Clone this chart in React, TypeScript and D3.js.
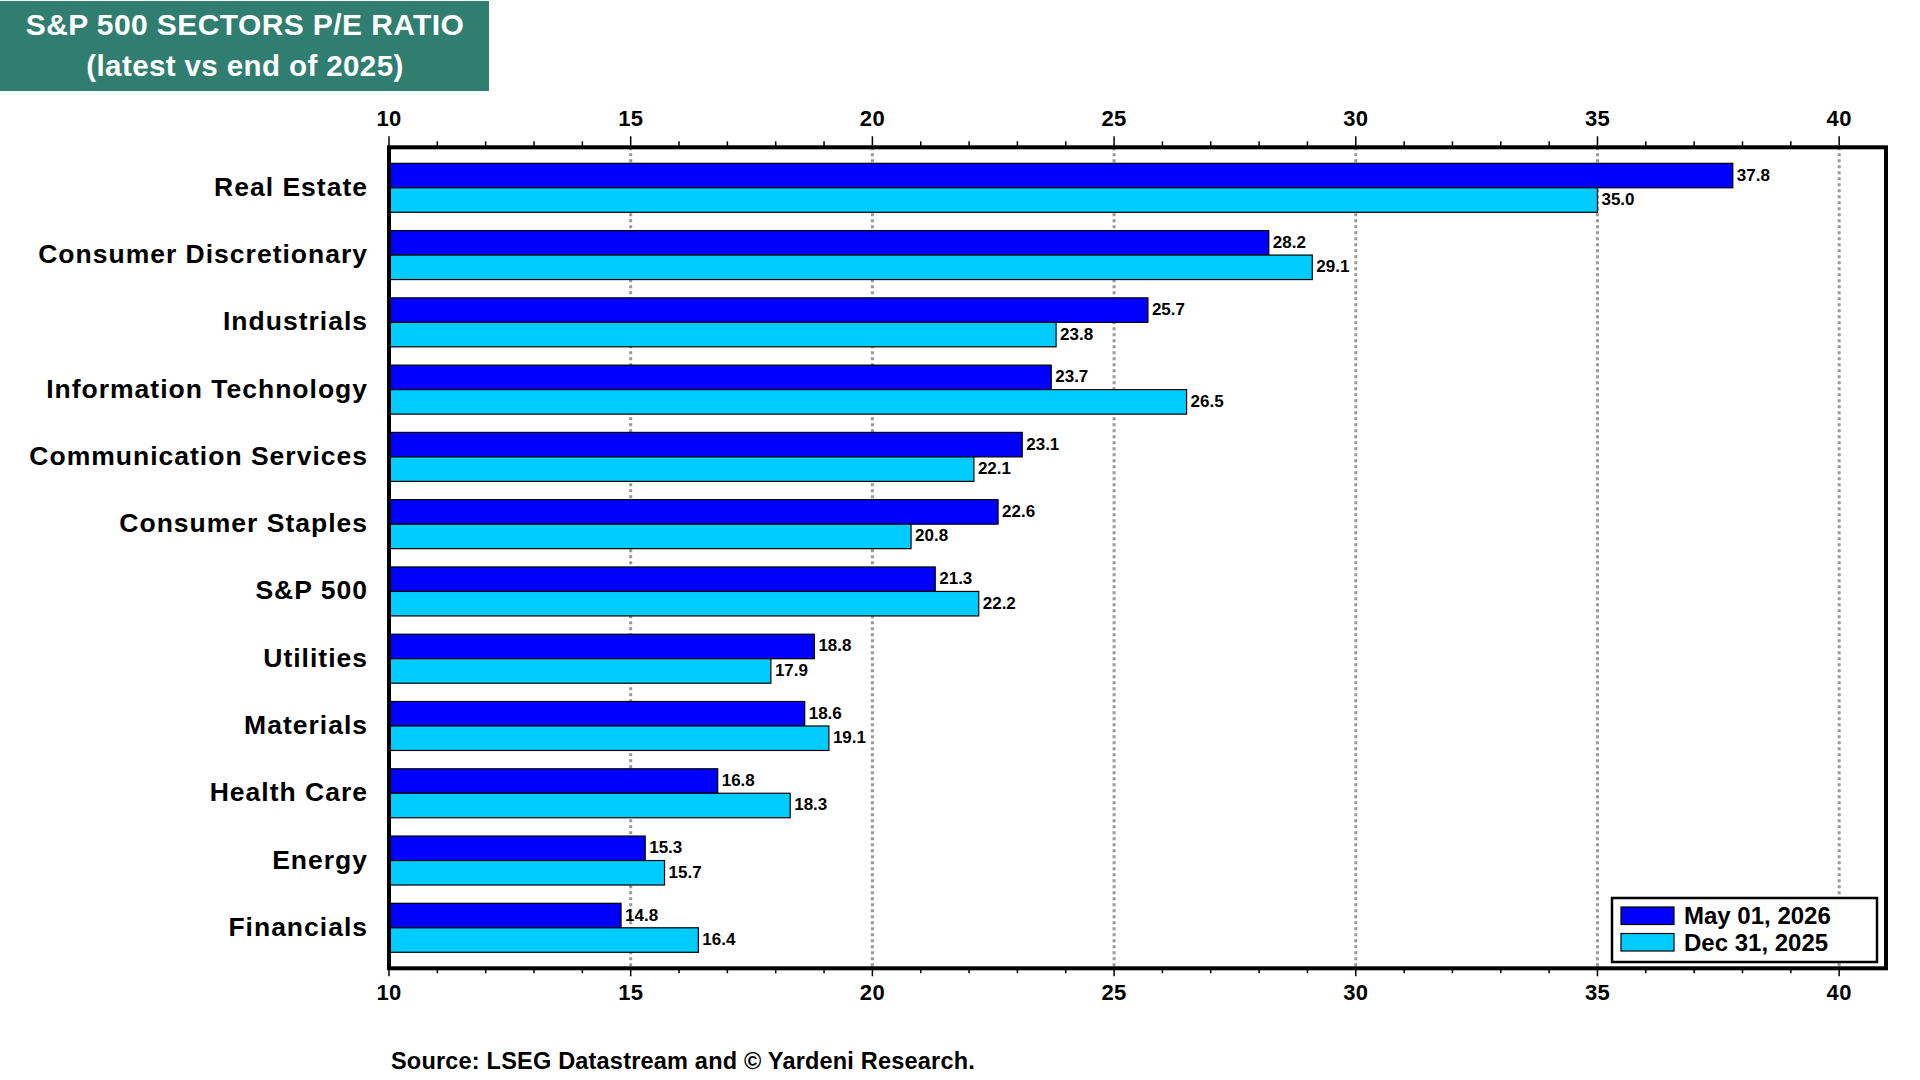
import * as d3 from "d3";
import React, { RefObject, useEffect, useRef } from "react";

const sectors = [
  "Real Estate",
  "Consumer Discretionary",
  "Industrials",
  "Information Technology",
  "Communication Services",
  "Consumer Staples",
  "S&P 500",
  "Utilities",
  "Materials",
  "Health Care",
  "Energy",
  "Financials",
];
const latestPE = [37.8, 28.2, 25.7, 23.7, 23.1, 22.6, 21.3, 18.8, 18.6, 16.8, 15.3, 14.8];
const yearEndPE = [35.0, 29.1, 23.8, 26.5, 22.1, 20.8, 22.2, 17.9, 19.1, 18.3, 15.7, 16.4];
const seriesNames = ["May 01, 2026", "Dec 31, 2025"];
const seriesColors = ["#0000FF", "#00CCFF"];
const majorTicks = [10, 15, 20, 25, 30, 35, 40];
const titleLines = ["S&P 500 SECTORS P/E RATIO", "(latest vs end of 2025)"];
const sourceText = "Source: LSEG Datastream and \u00A9 Yardeni Research.";

const width = 1920;
const height = 1080;
const font = "'Liberation Sans', Arial, Helvetica, sans-serif";

const App = () => {
  const d3Ref: RefObject<HTMLDivElement> = useRef(null);

  const drawChart = () => {
    d3.select(d3Ref.current).selectAll("*").remove();
    const svg = d3
      .select(d3Ref.current)
      .append("svg")
      .attr("width", width)
      .attr("height", height)
      .style("display", "block")
      .style("background", "#fff");

    const plotLeft = 389;
    const plotTop = 147.3;
    const plotBottom = 968.3;

    const x = d3.scaleLinear().domain([10, 41]).range([plotLeft, 1887.5]);
    const y = d3
      .scaleBand()
      .domain(sectors)
      .range([plotTop, plotBottom])
      .paddingInner(0.272)
      .paddingOuter(0.238);
    const ySub = d3
      .scaleBand()
      .domain(seriesNames)
      .range([0, y.bandwidth()]);

    // title box
    svg
      .append("rect")
      .attr("x", 0)
      .attr("y", 1)
      .attr("width", 489)
      .attr("height", 90)
      .attr("fill", "#2F7E70");
    svg
      .selectAll("text.title")
      .data(titleLines)
      .enter()
      .append("text")
      .attr("class", "title")
      .attr("x", 245)
      .attr("y", (d, i) => 35 + i * 41)
      .attr("text-anchor", "middle")
      .attr("fill", "#fff")
      .style("font-family", font)
      .style("font-weight", "bold")
      .style("font-size", (d, i) => (i === 0 ? "30px" : "29.5px"))
      .style("letter-spacing", "0.4px")
      .text((d) => d);

    // dotted grid lines
    svg
      .append("g")
      .selectAll("line")
      .data(majorTicks.filter((d) => d > 10))
      .enter()
      .append("line")
      .attr("x1", (d) => x(d))
      .attr("x2", (d) => x(d))
      .attr("y1", plotTop)
      .attr("y2", plotBottom)
      .attr("stroke", "#999")
      .attr("stroke-width", 3)
      .attr("stroke-dasharray", "3 3");

    // bars
    const rows = sectors.map((s, i) => ({
      sector: s,
      values: [latestPE[i], yearEndPE[i]],
    }));
    const groups = svg
      .append("g")
      .selectAll("g")
      .data(rows)
      .enter()
      .append("g")
      .attr("transform", (d) => `translate(0, ${y(d.sector)})`);

    groups
      .selectAll("rect")
      .data((d) => d.values.map((v, j) => ({ v, j })))
      .enter()
      .append("rect")
      .attr("x", x(10))
      .attr("y", (d) => ySub(seriesNames[d.j]) as number)
      .attr("width", (d) => x(d.v) - x(10))
      .attr("height", ySub.bandwidth())
      .attr("fill", (d) => seriesColors[d.j])
      .attr("stroke", "#000")
      .attr("stroke-width", 1.2);

    groups
      .selectAll("text")
      .data((d) => d.values.map((v, j) => ({ v, j })))
      .enter()
      .append("text")
      .attr("x", (d) => x(d.v) + 4)
      .attr("y", (d) => (ySub(seriesNames[d.j]) as number) + ySub.bandwidth() / 2 + 5)
      .style("font-family", font)
      .style("font-weight", "bold")
      .style("font-size", "17px")
      .text((d) => d.v.toFixed(1));

    // category labels
    svg
      .append("g")
      .selectAll("text")
      .data(sectors)
      .enter()
      .append("text")
      .attr("x", 368)
      .attr("y", (d) => (y(d) as number) + y.bandwidth() / 2 + 8)
      .attr("text-anchor", "end")
      .style("font-family", font)
      .style("font-weight", "bold")
      .style("font-size", "26.5px")
      .style("letter-spacing", "1px")
      .text((d) => d);

    // tick marks top and bottom
    const minorTicks = d3.range(10, 41, 1);
    const tickG = svg.append("g").attr("stroke", "#000").attr("stroke-width", 1.5);
    minorTicks.forEach((t) => {
      const len = t % 5 === 0 ? 9 : 4;
      tickG
        .append("line")
        .attr("x1", x(t))
        .attr("x2", x(t))
        .attr("y1", plotTop - 2 - len)
        .attr("y2", plotTop);
      tickG
        .append("line")
        .attr("x1", x(t))
        .attr("x2", x(t))
        .attr("y1", plotBottom)
        .attr("y2", plotBottom + 2 + (t % 5 === 0 ? 6 : 3));
    });

    // tick labels
    [118, 992].forEach((ty) => {
      svg
        .append("g")
        .selectAll("text")
        .data(majorTicks)
        .enter()
        .append("text")
        .attr("x", (d) => x(d))
        .attr("y", ty + 8)
        .attr("text-anchor", "middle")
        .style("font-family", font)
        .style("font-weight", "bold")
        .style("font-size", "22px")
        .style("letter-spacing", "0.3px")
        .text((d) => d);
    });

    // frame
    svg
      .append("rect")
      .attr("x", plotLeft)
      .attr("y", plotTop)
      .attr("width", x(41) - plotLeft - 1.5)
      .attr("height", plotBottom - plotTop)
      .attr("fill", "none")
      .attr("stroke", "#000")
      .attr("stroke-width", 4);

    // legend
    const legend = svg.append("g");
    legend
      .append("rect")
      .attr("x", 1612)
      .attr("y", 898)
      .attr("width", 265)
      .attr("height", 64)
      .attr("fill", "#fff")
      .attr("stroke", "#000")
      .attr("stroke-width", 2.5);
    seriesNames.forEach((name, i) => {
      legend
        .append("rect")
        .attr("x", 1621)
        .attr("y", 907 + i * 26.5)
        .attr("width", 53)
        .attr("height", 17.5)
        .attr("fill", seriesColors[i])
        .attr("stroke", "#000")
        .attr("stroke-width", 1.2);
      legend
        .append("text")
        .attr("x", 1684)
        .attr("y", 923.5 + i * 27)
        .style("font-family", font)
        .style("font-weight", "bold")
        .style("font-size", "24px")
        .text(name);
    });

    // source
    svg
      .append("text")
      .attr("x", 391)
      .attr("y", 1069)
      .style("font-family", font)
      .style("font-weight", "bold")
      .style("font-size", "23.5px")
      .style("letter-spacing", "0.2px")
      .text(sourceText);
  };

  useEffect(() => {
    document.body.style.margin = "0";
    drawChart();
  }, [d3Ref]);

  return (
    <>
      <div ref={d3Ref} />
    </>
  );
};

export default App;
